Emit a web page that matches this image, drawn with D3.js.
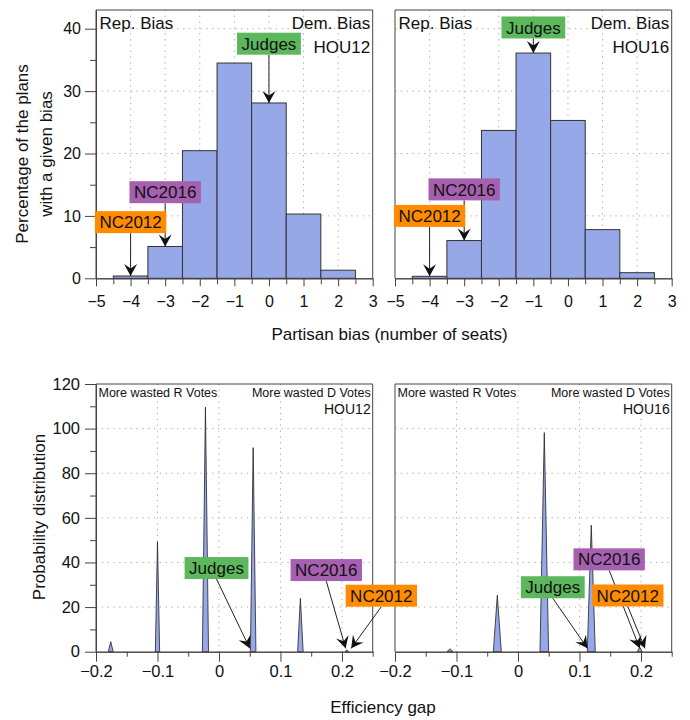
<!DOCTYPE html>
<html><head><meta charset="utf-8">
<script src="https://cdn.jsdelivr.net/npm/d3@7"></script>
<style>
body{margin:0;background:#fff;}
svg{display:block;font-family:"Liberation Sans",Arial,Helvetica,sans-serif;}
</style>
</head><body>
<svg id="c" width="690" height="720"></svg>
<script>
// ---------------- DATA ----------------
const seatBins = [-4, -3, -2, -1, 0, 1, 2];
const hou12Pct = [0.37, 5.1, 20.45, 34.5, 28.1, 10.3, 1.3];
const hou16Pct = [0.32, 6.05, 23.7, 36.1, 25.3, 7.8, 0.9];
const seatTicks = [-5, -4, -3, -2, -1, 0, 1, 2, 3];
const seatMinorTicks = [-4.5, -3.5, -2.5, -1.5, -0.5, 0.5, 1.5, 2.5];
const pctTicks = [0, 10, 20, 30, 40];
const pctMinorTicks = [5, 15, 25, 35];

const planNames = ["Judges", "NC2016", "NC2012"];
const hou12PlanBias = [0, -3, -4];
const hou16PlanBias = [-1, -3, -4];

const hou12PeakGap = [-0.176, -0.1, -0.022, 0.0556, 0.1324, 0.208];
const hou12PeakDensity = [4.5, 49.3, 109.6, 91.5, 23.9, 0.8];
const hou12PeakSpread = [0.004, 0.0035, 0.005, 0.0045, 0.0045, 0.003];
const hou16PeakGap = [-0.1106, -0.0336, 0.0428, 0.1192, 0.198];
const hou16PeakDensity = [1.3, 25.3, 98.2, 56.7, 2];
const hou16PeakSpread = [0.005, 0.0065, 0.007, 0.0065, 0.004];
const hou12PlanGap = [0.05, 0.206, 0.215];
const hou16PlanGap = [0.113, 0.198, 0.2065];
const gapTicks = [-0.2, -0.1, 0, 0.1, 0.2];
const gapMinorTicks = [-0.15, -0.05, 0.05, 0.15, 0.25];
const densityTicks = [0, 20, 40, 60, 80, 100, 120];
const densityMinorTicks = [10, 30, 50, 70, 90, 110];

// ---------------- LAYOUT / STYLE ----------------
const panelX = [[96, 372.7], [395, 671.7]];
const topY = [10, 278.3];
const botY = [384, 651.7];
const planColor = {Judges: "#5db85d", NC2016: "#a560b0", NC2012: "#ff8c00"};
const barFill = "#97a8e8";
const axisColor = "#444";
const gridColor = "#aaa";
// label box centers (data units of each panel)
const topLabelY = [[37.6, 13.8, 9.0], [40.2, 14.25, 10]];
const botLabelPos = [
  [[-0.004, 37.5], [0.1745, 36.6], [0.264, 25.1]],
  [[0.0566, 28.9], [0.1483, 41.4], [0.1786, 25.2]]
];

const svg = d3.select("#c");
const defs = svg.append("defs");
defs.append("marker").attr("id", "ah")
  .attr("viewBox", "-14 -8 16 16").attr("markerWidth", 16).attr("markerHeight", 16)
  .attr("markerUnits", "userSpaceOnUse").attr("refX", 0).attr("refY", 0).attr("orient", "auto")
  .append("path").attr("d", "M0,0 L-12,-6.5 L-7.5,0 L-12,6.5 Z").attr("fill", "#111");

const layerPanels = svg.append("g");
const layerAnnot = svg.append("g");

function styleAxis(ax, fs) {
  ax.selectAll(".domain").attr("stroke", axisColor);
  ax.selectAll(".tick line").attr("stroke", axisColor);
  ax.selectAll("text").attr("fill", "#111").style("font-size", fs + "px")
    .style("font-family", '"Liberation Sans",Arial,Helvetica,sans-serif');
}

function drawBox(name, cx, cy) {
  const g = layerAnnot.append("g");
  const t = g.append("text").attr("x", cx).attr("y", cy).attr("dy", "0.36em")
    .attr("text-anchor", "middle").attr("fill", "#111").style("font-size", "17px").text(name);
  const bb = t.node().getBBox();
  g.insert("rect", "text").attr("x", cx - bb.width / 2 - 4.5).attr("y", cy - 11)
    .attr("width", bb.width + 9).attr("height", 22).attr("fill", planColor[name]);
}
function drawArrow(x1, y1, x2, y2) {
  layerAnnot.append("line").attr("x1", x1).attr("y1", y1).attr("x2", x2).attr("y2", y2)
    .attr("stroke", "#222").attr("stroke-width", 1).attr("marker-end", "url(#ah)");
}

function histPanel(i, pct, bias, name) {
  const [x0, x1] = panelX[i];
  const x = d3.scaleLinear().domain([-5, 3]).range([x0, x1]);
  const y = d3.scaleLinear().domain([0, 43]).range([topY[1], topY[0]]);
  const g = layerPanels.append("g");
  g.selectAll(".gv").data(seatTicks.slice(1, -1)).join("line")
    .attr("x1", d => x(d)).attr("x2", d => x(d)).attr("y1", topY[0]).attr("y2", topY[1])
    .attr("stroke", gridColor).attr("stroke-dasharray", "1.3,4.5");
  g.selectAll(".gh").data(pctTicks.slice(1)).join("line")
    .attr("x1", x0).attr("x2", x1).attr("y1", d => y(d)).attr("y2", d => y(d))
    .attr("stroke", gridColor).attr("stroke-dasharray", "1.3,4.5");
  g.selectAll("rect").data(seatBins).join("rect")
    .attr("x", d => x(d - 0.5)).attr("width", d => x(d + 0.5) - x(d - 0.5))
    .attr("y", (d, j) => y(pct[j])).attr("height", (d, j) => y(0) - y(pct[j]))
    .attr("fill", barFill).attr("stroke", "#333").attr("stroke-width", 1);
  g.append("path").attr("d", `M${x0},${topY[1]}V${topY[0]}H${x1}V${topY[1]}`)
    .attr("fill", "none").attr("stroke", axisColor);
  const axM = g.append("g").attr("transform", `translate(0,${topY[1]})`)
    .call(d3.axisBottom(x).tickValues(seatTicks).tickSize(8).tickSizeOuter(0).tickPadding(9).tickFormat(d3.format("d")));
  styleAxis(axM, 16);
  const axm = g.append("g").attr("transform", `translate(0,${topY[1]})`)
    .call(d3.axisBottom(x).tickValues(seatMinorTicks).tickSize(6).tickSizeOuter(0).tickFormat(""));
  styleAxis(axm, 16);
  if (i === 0) {
    const ay = g.append("g").attr("transform", `translate(${x0},0)`)
      .call(d3.axisLeft(y).tickValues(pctTicks).tickSize(11).tickSizeOuter(0).tickPadding(4));
    styleAxis(ay, 16);
    const aym = g.append("g").attr("transform", `translate(${x0},0)`)
      .call(d3.axisLeft(y).tickValues(pctMinorTicks).tickSize(6).tickSizeOuter(0).tickFormat(""));
    styleAxis(aym, 16);
  }
  g.append("text").attr("x", x0 + 3.5).attr("y", 29.3).attr("fill", "#111").style("font-size", "17px").text("Rep. Bias");
  g.append("text").attr("x", x1 - 2.5).attr("y", 29.3).attr("text-anchor", "end").attr("fill", "#111").style("font-size", "17px").text("Dem. Bias");
  g.append("text").attr("x", x1 - 2.5).attr("y", 53).attr("text-anchor", "end").attr("fill", "#111").style("font-size", "17px").text(name);
  planNames.forEach((p, k) => {
    const cx = x(bias[k]);
    const cy = y(topLabelY[i][k]);
    const bin = seatBins.indexOf(bias[k]);
    drawArrow(cx, cy + 11, cx, y(pct[bin]));
    drawBox(p, cx, cy);
  });
}

function densityPanel(i, gaps, dens, spread, planGap, name) {
  const [x0, x1] = panelX[i];
  const x = d3.scaleLinear().domain([-0.2, 0.25]).range([x0, x1]);
  const y = d3.scaleLinear().domain([0, 120]).range([botY[1], botY[0]]);
  const g = layerPanels.append("g");
  g.selectAll(".gv").data(gapTicks.slice(1)).join("line")
    .attr("x1", d => x(d)).attr("x2", d => x(d)).attr("y1", botY[0]).attr("y2", botY[1])
    .attr("stroke", gridColor).attr("stroke-dasharray", "1.3,4.5");
  g.selectAll(".gh").data(densityTicks.slice(1, -1)).join("line")
    .attr("x1", x0).attr("x2", x1).attr("y1", d => y(d)).attr("y2", d => y(d))
    .attr("stroke", gridColor).attr("stroke-dasharray", "1.3,4.5");
  const area = d3.area().x(d => x(d[0])).y0(y(0)).y1(d => y(d[1]));
  g.selectAll(".peak").data(gaps).join("path")
    .attr("d", (c, j) => area([[c - spread[j], 0], [c, dens[j]], [c + spread[j], 0]]))
    .attr("fill", barFill).attr("stroke", "#222").attr("stroke-width", 0.8);
  g.append("path").attr("d", `M${x0},${botY[1]}V${botY[0]}H${x1}V${botY[1]}`)
    .attr("fill", "none").attr("stroke", axisColor);
  const fmt = d => d === 0 ? "0" : d3.format(".1f")(d);
  const axM = g.append("g").attr("transform", `translate(0,${botY[1]})`)
    .call(d3.axisBottom(x).tickValues(gapTicks).tickSize(10).tickSizeOuter(0).tickPadding(3.5).tickFormat(fmt));
  styleAxis(axM, 16.5);
  const axm = g.append("g").attr("transform", `translate(0,${botY[1]})`)
    .call(d3.axisBottom(x).tickValues(gapMinorTicks).tickSize(5).tickSizeOuter(0).tickFormat(""));
  styleAxis(axm, 16);
  if (i === 0) {
    const ay = g.append("g").attr("transform", `translate(${x0},0)`)
      .call(d3.axisLeft(y).tickValues(densityTicks).tickSize(11).tickSizeOuter(0).tickPadding(5));
    styleAxis(ay, 16.5);
    const aym = g.append("g").attr("transform", `translate(${x0},0)`)
      .call(d3.axisLeft(y).tickValues(densityMinorTicks).tickSize(6).tickSizeOuter(0).tickFormat(""));
    styleAxis(aym, 16);
  }
  g.append("text").attr("x", x0 + 2.5).attr("y", 397).attr("fill", "#111").style("font-size", "12.5px").text("More wasted R Votes");
  g.append("text").attr("x", x1 - 2).attr("y", 397).attr("text-anchor", "end").attr("fill", "#111").style("font-size", "12.5px").text("More wasted D Votes");
  g.append("text").attr("x", x1 - 2).attr("y", 414).attr("text-anchor", "end").attr("fill", "#111").style("font-size", "14px").text(name);
  planNames.forEach((p, k) => {
    const cx = x(botLabelPos[i][k][0]);
    const cy = y(botLabelPos[i][k][1]);
    drawArrow(cx, cy + 11, x(planGap[k]), y(1.5));
    drawBox(p, cx, cy);
  });
}

histPanel(0, hou12Pct, hou12PlanBias, "HOU12");
histPanel(1, hou16Pct, hou16PlanBias, "HOU16");
densityPanel(0, hou12PeakGap, hou12PeakDensity, hou12PeakSpread, hou12PlanGap, "HOU12");
densityPanel(1, hou16PeakGap, hou16PeakDensity, hou16PeakSpread, hou16PlanGap, "HOU16");

// axis titles
const ty = svg.append("g").attr("fill", "#111").style("font-size", "17px");
ty.append("text").attr("transform", "translate(22.5,154) rotate(-90)").attr("dy", "0.35em").attr("text-anchor", "middle").text("Percentage of the plans");
ty.append("text").attr("transform", "translate(46,154) rotate(-90)").attr("dy", "0.35em").attr("text-anchor", "middle").text("with a given bias");
ty.append("text").attr("transform", "translate(39,517) rotate(-90)").attr("dy", "0.35em").attr("text-anchor", "middle").text("Probability distribution");
ty.append("text").attr("x", 389.5).attr("y", 340).attr("text-anchor", "middle").text("Partisan bias (number of seats)");
ty.append("text").attr("x", 383).attr("y", 713).attr("text-anchor", "middle").text("Efficiency gap");
</script>
</body></html>
